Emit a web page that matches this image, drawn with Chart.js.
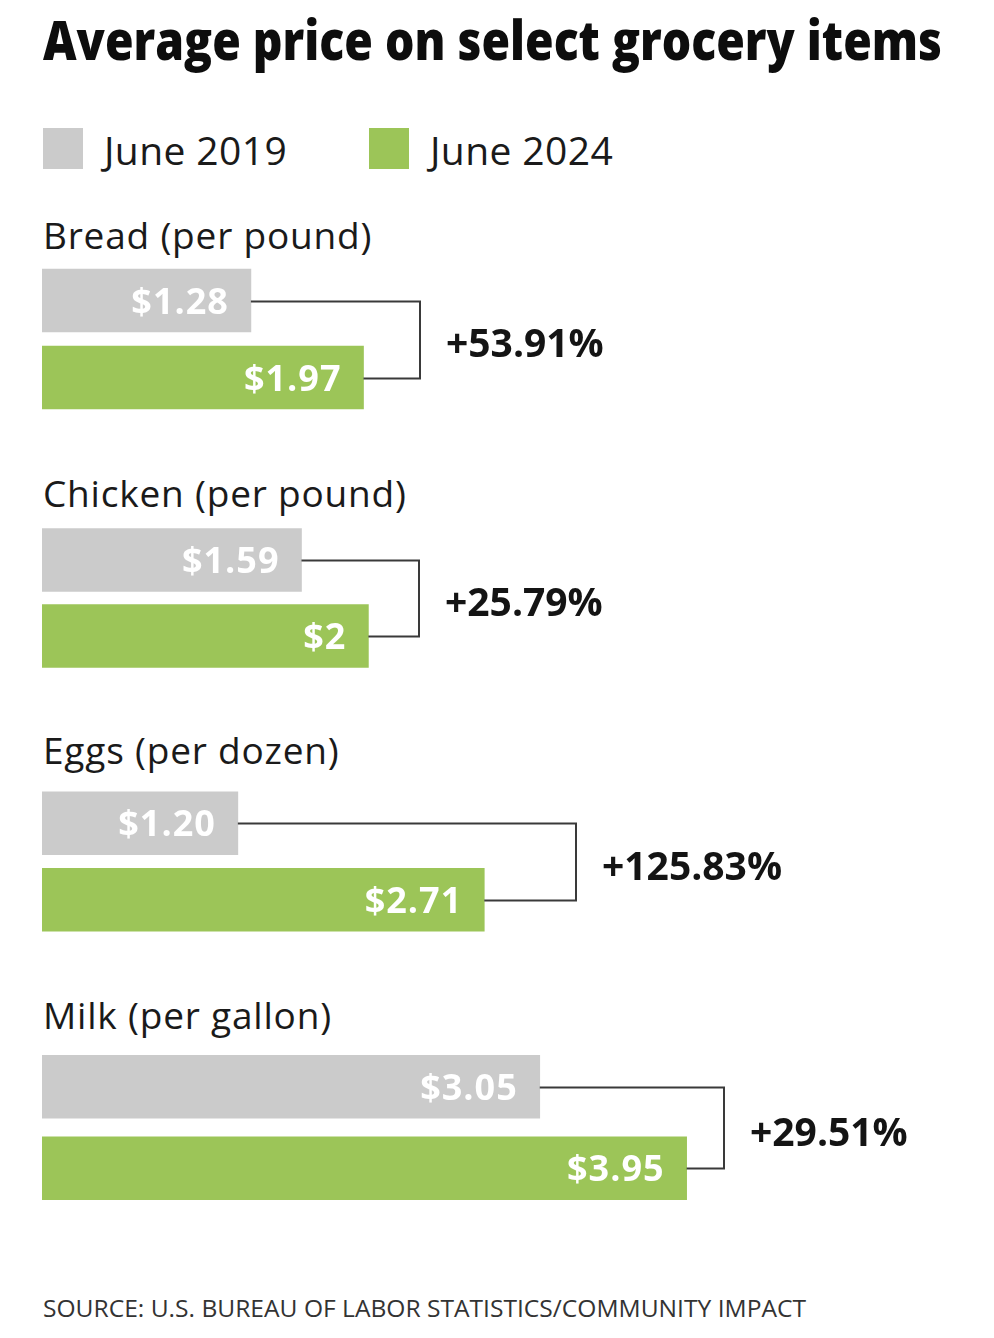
<!DOCTYPE html>
<html>
<head>
<meta charset="utf-8">
<script src="https://cdn.jsdelivr.net/npm/chart.js@4.4.1/dist/chart.umd.min.js"></script>
<style>
  body { margin: 0; background: #fff; }
  #page { position: relative; width: 994px; height: 1338px; overflow: hidden; font-family: "Open Sans", sans-serif; color: #141414; }
  .txt { position: absolute; white-space: nowrap; line-height: 1; transform-origin: 0 0; }
  .swatch { position: absolute; width: 40px; height: 41px; }
</style>
</head>
<body>
<div id="page"></div>
<script>
// data
const items = ['Bread (per pound)', 'Chicken (per pound)', 'Eggs (per dozen)', 'Milk (per gallon)'];
const seriesNames = ['June 2019', 'June 2024'];
const june2019 = [1.28, 1.59, 1.20, 3.05];
const june2024 = [1.97, 2.00, 2.71, 3.95];
const labels2019 = ['$1.28', '$1.59', '$1.20', '$3.05'];
const labels2024 = ['$1.97', '$2', '$2.71', '$3.95'];
const pctChange = ['+53.91%', '+25.79%', '+125.83%', '+29.51%'];

const GRAY = '#cbcbcb';
const GREEN = '#9cc558';
const INK = '#141414';

// layout (px)
const PX_PER_DOLLAR = 163.2;
const LEFT = 42;
const grayCenter = [300.5, 559.5, 823, 1087];
const rowGap = [77, 76, 76.5, 81.5];
const labelBaseline = [249, 507, 764, 1029];
const bracketX = [420, 419, 576, 724];

const page = document.getElementById('page');

function addText(str, x, baseline, size, weight, color, fitWidth, spacing) {
  const el = document.createElement('div');
  el.className = 'txt';
  el.textContent = str;
  el.style.left = x + 'px';
  el.style.top = (baseline - 0.888 * size) + 'px';
  el.style.fontSize = size + 'px';
  el.style.fontWeight = weight;
  el.style.color = color;
  if (spacing) el.style.letterSpacing = spacing + 'px';
  page.appendChild(el);
  if (fitWidth) el.dataset.fit = fitWidth;
  return el;
}

addText('Average price on select grocery items', 43, 60, 55, 800, '#0d0d0d', 899);

// legend
[[43, GRAY, 104], [369, GREEN, 430]].forEach(([x, c, tx], i) => {
  const sw = document.createElement('div');
  sw.className = 'swatch';
  sw.style.left = x + 'px';
  sw.style.top = '128px';
  sw.style.background = c;
  page.appendChild(sw);
  addText(seriesNames[i], tx, 165, 39, 400, '#1a1a1a', null, 0.4);
});

items.forEach((name, i) => addText(name, 43, labelBaseline[i], 37, 400, '#1a1a1a', null, 0.8));

addText('SOURCE: U.S. BUREAU OF LABOR STATISTICS/COMMUNITY IMPACT', 43, 1317, 23, 400, '#333', 763);

const annotate = {
  id: 'annotate',
  afterDatasetsDraw(chart, args, opts) {
    const ctx = chart.ctx;
    const bars = chart.getDatasetMeta(0).data;
    const g = opts.index;
    const a = bars[0], b = bars[1];

    // value labels inside the bars
    ctx.save();
    ctx.fillStyle = '#fff';
    ctx.font = '700 36px "Open Sans"';
    ctx.letterSpacing = '1px';
    ctx.textAlign = 'right';
    ctx.textBaseline = 'alphabetic';
    ctx.fillText(labels2019[g], a.x - 22, a.y + 13);
    ctx.fillText(labels2024[g], b.x - 22, b.y + 13);
    ctx.restore();

    // bracket
    const bx = bracketX[g];
    ctx.save();
    ctx.strokeStyle = '#3a3a3a';
    ctx.lineWidth = 2;
    ctx.beginPath();
    ctx.moveTo(a.x, Math.round(a.y) + 0.5);
    ctx.lineTo(bx, Math.round(a.y) + 0.5);
    ctx.lineTo(bx, Math.round(b.y) + 0.5);
    ctx.lineTo(b.x, Math.round(b.y) + 0.5);
    ctx.stroke();

    // percentage change
    ctx.fillStyle = INK;
    ctx.font = '700 39px "Open Sans"';
    ctx.textAlign = 'left';
    ctx.fillText(pctChange[g], bx + 26, (a.y + b.y) / 2 + 18);
    ctx.restore();
  }
};

const maxDollars = (994 - LEFT - 10) / PX_PER_DOLLAR;

items.forEach((name, i) => {
  const h = rowGap[i] * 2;
  const wrap = document.createElement('div');
  wrap.style.position = 'absolute';
  wrap.style.left = '0';
  wrap.style.top = (grayCenter[i] - rowGap[i] / 2) + 'px';
  wrap.style.width = '994px';
  wrap.style.height = h + 'px';
  const cv = document.createElement('canvas');
  cv.width = 994;
  cv.height = h;
  wrap.appendChild(cv);
  page.appendChild(wrap);

  new Chart(cv, {
    type: 'bar',
    data: {
      labels: seriesNames,
      datasets: [{
        data: [june2019[i], june2024[i]],
        backgroundColor: [GRAY, GREEN],
        borderWidth: 0,
        barThickness: 63
      }]
    },
    options: {
      indexAxis: 'y',
      responsive: false,
      animation: false,
      events: [],
      layout: { padding: { left: LEFT, right: 10, top: 0, bottom: 0 } },
      scales: {
        x: { display: false, min: 0, max: maxDollars },
        y: { display: false }
      },
      plugins: {
        legend: { display: false },
        tooltip: { enabled: false },
        annotate: { index: i }
      }
    },
    plugins: [annotate]
  });
});

// squeeze condensed headline / source to their measured width
document.fonts.ready.then(() => {
  document.querySelectorAll('[data-fit]').forEach(el => {
    const w = el.getBoundingClientRect().width;
    el.style.transform = 'scaleX(' + (el.dataset.fit / w) + ')';
  });
});
</script>
</body>
</html>
